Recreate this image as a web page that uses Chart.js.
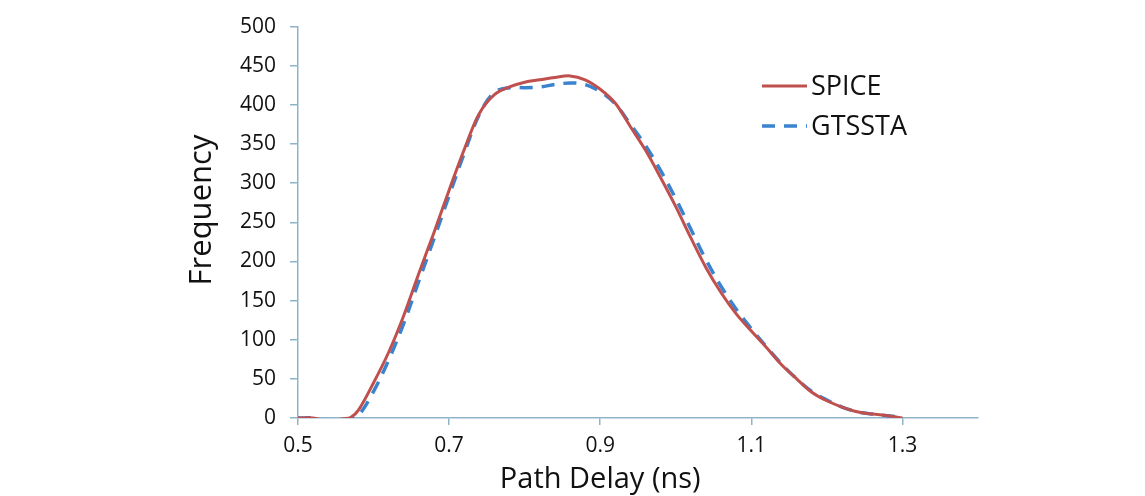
<!DOCTYPE html>
<html>
<head>
<meta charset="utf-8">
<script src="https://cdn.jsdelivr.net/npm/chart.js@4.4.1/dist/chart.umd.min.js"></script>
<style>
  html, body { margin: 0; padding: 0; background: #fff; }
  #wrap { width: 1145px; height: 496px; }
</style>
</head>
<body>
<div id="wrap"><canvas id="delayChart"></canvas></div>
<script>
// path delay (ns)
var delays = [0.50, 0.52, 0.54, 0.56, 0.57, 0.58, 0.60, 0.62, 0.64, 0.66, 0.68, 0.70, 0.72, 0.74, 0.76, 0.78,
              0.80, 0.82, 0.84, 0.86, 0.88, 0.90, 0.92, 0.94, 0.96, 0.98, 1.00, 1.02, 1.04, 1.06, 1.08,
              1.10, 1.12, 1.14, 1.16, 1.18, 1.20, 1.22, 1.24, 1.26, 1.28, 1.30];
var spice  = [0, 0, -4, -1, 1, 10, 45, 84, 131, 185, 237, 291, 343, 389, 413, 423,
              429, 432, 435, 437, 432, 420, 402, 372, 342, 307, 270, 230, 192, 160, 133,
              111, 90, 68, 50, 33, 22, 14, 8, 5, 3, 0];
var gtssta = [0, 0, -4, -2, -1, 3, 34, 74, 121, 175, 229, 284, 338, 388, 416, 422,
              422, 423, 426, 428, 426, 417, 401, 375, 348, 316, 280, 241, 202, 168, 139,
              114, 91, 69, 50, 34, 23, 14, 8, 5, 3, 1];
var xTicks = [0.5, 0.7, 0.9, 1.1, 1.3];
var seriesNames = ["SPICE", "GTSSTA"];
var xTitle = 'Path Delay (ns)';
var yTitle = 'Frequency';

var axisColor = '#8fb4c8';
var fontFam = '"Open Sans", Lato, sans-serif';

function toPoints(ys) {
  return delays.map(function (d, i) { return {x: d, y: ys[i]}; });
}

// axis titles + legend drawn by hand so they sit where the original has them
var extras = {
  id: 'extras',
  afterDraw: function (chart) {
    var c = chart.ctx;
    var xs = chart.scales.x;
    c.save();
    c.fillStyle = '#111';
    c.font = '29px ' + fontFam;
    c.textAlign = 'center';
    c.textBaseline = 'alphabetic';
    var midX = xs.getPixelForValue((xTicks[0] + xTicks[xTicks.length - 1]) / 2);
    c.fillText(xTitle, midX, 488);

    c.save();
    c.translate(211, 210);
    c.rotate(-Math.PI / 2);
    c.font = '31px ' + fontFam;
    c.fillText(yTitle, 0, 0);
    c.restore();

    c.textAlign = 'left';
    chart.data.datasets.forEach(function (ds, i) {
      var y = 86 + i * 40;
      c.beginPath();
      c.strokeStyle = ds.borderColor;
      c.lineWidth = ds.borderWidth;
      c.setLineDash(ds.borderDash || []);
      c.moveTo(762, y);
      c.lineTo(807, y);
      c.stroke();
      c.setLineDash([]);
      c.font = '27px ' + fontFam;
      c.textBaseline = 'middle';
      c.fillText(ds.label, 811, y + 1);
    });
    c.restore();
  }
};

new Chart(document.getElementById('delayChart'), {
  type: 'line',
  data: {
    datasets: [
      {
        label: seriesNames[0],
        data: toPoints(spice),
        borderColor: '#c0504d',
        borderWidth: 3,
        pointRadius: 0,
        tension: 0.35,
        clip: 0
      },
      {
        label: seriesNames[1],
        data: toPoints(gtssta),
        borderColor: '#3a83cf',
        borderWidth: 3.5,
        borderDash: [13, 9],
        pointRadius: 0,
        tension: 0.35,
        clip: 0
      }
    ]
  },
  options: {
    responsive: true,
    maintainAspectRatio: false,
    animation: false,
    layout: { padding: { left: 180, top: 19, right: 167, bottom: 0 } },
    plugins: {
      legend: { display: false },
      tooltip: { enabled: false }
    },
    scales: {
      x: {
        type: 'linear',
        min: 0.5,
        max: 1.4,
        afterBuildTicks: function (scale) {
          scale.ticks = xTicks.map(function (v) { return {value: v}; });
        },
        afterFit: function (scale) { scale.height = 78; },
        border: { color: axisColor, width: 1.5 },
        grid: { drawOnChartArea: false, color: axisColor, tickLength: 7, lineWidth: 1.5 },
        ticks: {
          color: '#111',
          font: { family: fontFam, size: 21 },
          padding: 8,
          callback: function (v) { return v.toFixed(1); }
        }
      },
      y: {
        min: 0,
        max: 500,
        afterFit: function (scale) { scale.width = 118; },
        border: { color: axisColor, width: 1.5 },
        grid: { drawOnChartArea: false, color: axisColor, tickLength: 8, lineWidth: 1.5 },
        ticks: {
          stepSize: 50,
          color: '#111',
          font: { family: fontFam, size: 21 },
          padding: 14
        }
      }
    }
  },
  plugins: [extras]
});
</script>
</body>
</html>
